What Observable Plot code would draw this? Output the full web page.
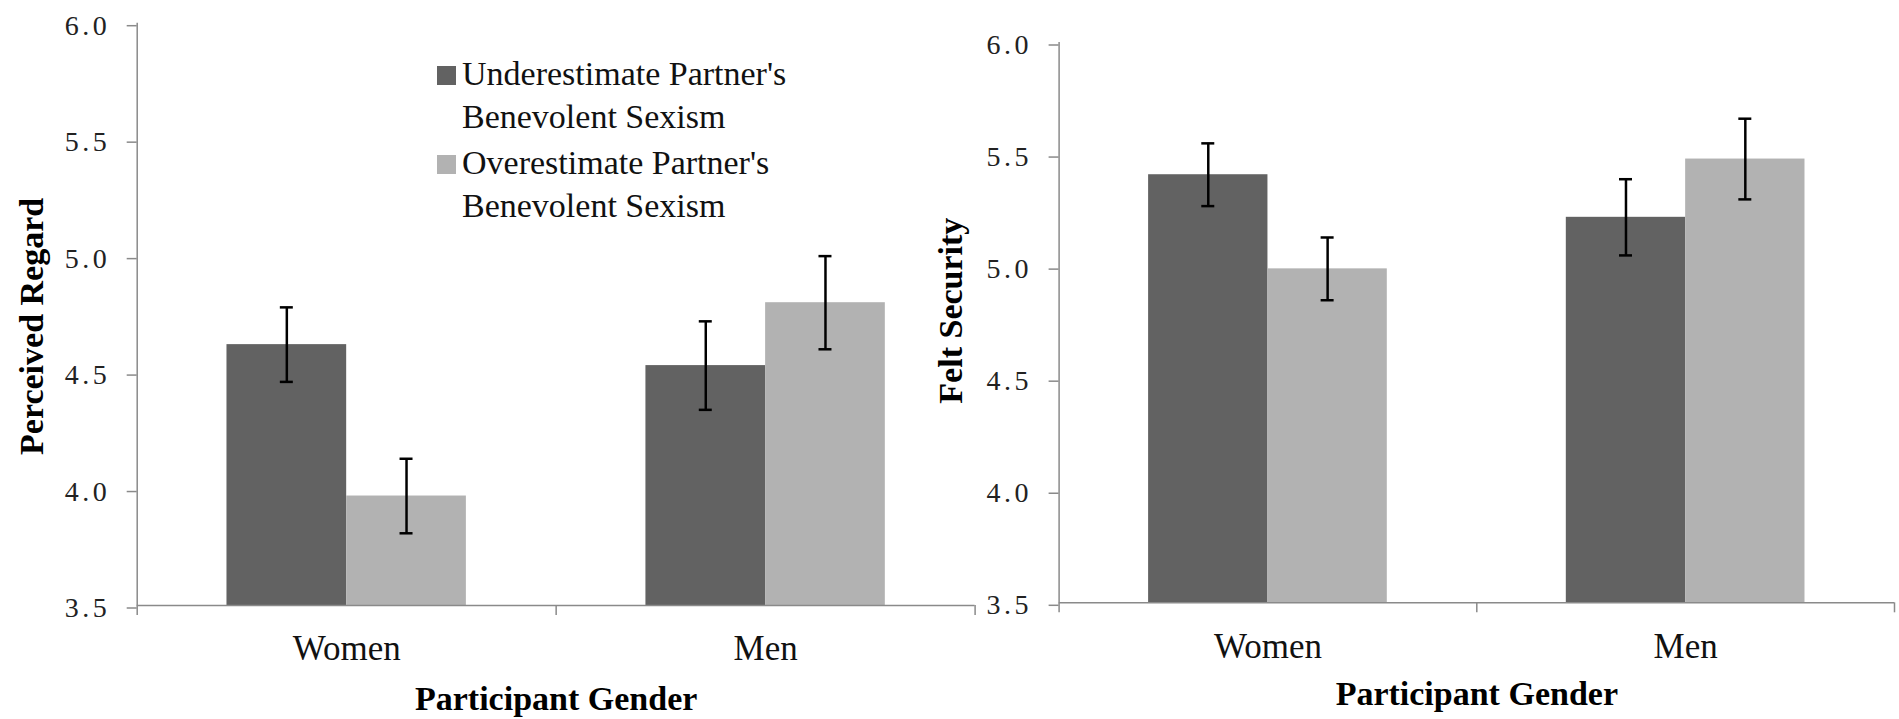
<!DOCTYPE html>
<html>
<head>
<meta charset="utf-8">
<script src="https://cdn.jsdelivr.net/npm/d3@7"></script>
<script src="https://cdn.jsdelivr.net/npm/@observablehq/plot@0.6"></script>
<style>
  html, body { margin: 0; padding: 0; background: #fff; }
  #chart {
    position: relative; width: 1899px; height: 719px; overflow: hidden;
    font-family: "Liberation Serif", "Times New Roman", serif;
  }
  #chart svg { position: absolute; top: 0; }
  #chart g[aria-label="y-axis tick label"],
  #chart g[aria-label="y-axis tick label"] text {
    font-family: "Liberation Serif", "Times New Roman", serif;
    font-size: 28px;
    font-variant: normal;
    letter-spacing: 3.5px;
  }
  #chart g[aria-label="x-axis tick label"],
  #chart g[aria-label="x-axis tick label"] text {
    font-family: "Liberation Serif", "Times New Roman", serif;
    font-size: 35px;
  }
  .legend { position: absolute; z-index: 2; font-size: 34px; line-height: 42.5px; color: #111; white-space: nowrap; }
  .legend .swatch { position: absolute; width: 19px; height: 19px; }
  .legend .label { position: absolute; }
</style>
</head>
<body>
<div id="chart"></div>
<script>
// Categories and series
const genders = ["Women", "Men"];
const seriesNames = [
  "Underestimate Partner's Benevolent Sexism",
  "Overestimate Partner's Benevolent Sexism"
];
const seriesColors = ["#626262", "#b2b2b2"];
const yTicks = [3.5, 4.0, 4.5, 5.0, 5.5, 6.0];

// Perceived Regard: means and error-bar half lengths, by gender
const regardUnder = [4.62, 4.53];
const regardOver = [3.97, 4.80];
const regardUnderErr = [0.16, 0.19];
const regardOverErr = [0.16, 0.20];

// Felt Security: means and error-bar half lengths, by gender
const securityUnder = [5.41, 5.22];
const securityOver = [4.99, 5.48];
const securityUnderErr = [0.14, 0.17];
const securityOverErr = [0.14, 0.18];

// Long-format rows for one panel
function makeRows(under, over, underErr, overErr) {
  const rows = [];
  genders.forEach((g, gi) => {
    rows.push({gender: g, gi, series: seriesNames[0], si: 0, mean: under[gi], err: underErr[gi]});
    rows.push({gender: g, gi, series: seriesNames[1], si: 1, mean: over[gi], err: overErr[gi]});
  });
  return rows;
}

// Clustered-bar geometry in category units (gap width 150% of a bar)
const gapRatio = 1.5;
const barW = 1 / (seriesNames.length + gapRatio);
const barX1 = d => d.gi + (gapRatio / 2) * barW + d.si * barW;
const barX2 = d => barX1(d) + barW;
const barMid = d => barX1(d) + barW / 2;

const axisColor = "#8a8a8a";
const font = "Liberation Serif, Times New Roman, serif";

function panel(o) {
  const rows = o.rows;
  return Plot.plot({
    width: o.width,
    height: 719,
    marginLeft: o.marginLeft,
    marginRight: o.marginRight,
    marginTop: o.marginTop,
    marginBottom: o.marginBottom,
    style: {background: "transparent", overflow: "visible", maxWidth: "none", fontFamily: font, color: "#222"},
    x: {domain: [0, genders.length], axis: null},
    y: {domain: [3.5, 6.0], axis: null},
    color: {domain: seriesNames, range: seriesColors},
    marks: [
      // bars
      Plot.rectY(rows, {x1: barX1, x2: barX2, y1: 3.5, y2: "mean", fill: "series"}),
      // error bars with caps
      Plot.ruleX(rows, {x: barMid, y1: d => d.mean - d.err, y2: d => d.mean + d.err, stroke: "#000", strokeWidth: 2.5}),
      Plot.ruleY(rows, {x1: barMid, x2: barMid, y: d => d.mean + d.err, insetLeft: -6.5, insetRight: -6.5, stroke: "#000", strokeWidth: 2.5}),
      Plot.ruleY(rows, {x1: barMid, x2: barMid, y: d => d.mean - d.err, insetLeft: -6.5, insetRight: -6.5, stroke: "#000", strokeWidth: 2.5}),
      // axis lines
      Plot.ruleX([0], {y1: 3.5, y2: 6.0, stroke: axisColor, strokeWidth: 1.5}),
      Plot.ruleY([3.5], {stroke: axisColor, strokeWidth: 1.5}),
      // category boundary tick marks
      Plot.ruleX(d3.range(genders.length + 1), {y1: 3.5, y2: 3.5, insetBottom: -10, stroke: axisColor, strokeWidth: 1.5}),
      // value axis
      Plot.axisY({
        ticks: yTicks, tickFormat: d3.format(".1f"), tickSize: 10, tickPadding: 17, label: null,
        stroke: axisColor, strokeWidth: 1.5, fontSize: 28, fontFamily: font, fill: "#222", dy: 2.5
      }),
      // category labels
      Plot.axisX({
        ticks: genders.map((g, i) => i + 0.5), tickFormat: v => genders[Math.floor(v)], label: null,
        tickSize: 0, tickPadding: 30, fontSize: 35, fontFamily: font, fill: "#111"
      }),
      // axis titles
      Plot.text([o.yLabel], {
        frameAnchor: "left", rotate: -90, textAnchor: "middle", lineAnchor: "middle",
        dx: o.yTitleDx, dy: o.yTitleDy, fontWeight: "bold", fontSize: 34, fontFamily: font, fill: "#000"
      }),
      Plot.text(["Participant Gender"], {
        frameAnchor: "bottom", textAnchor: "middle", lineAnchor: "middle",
        dy: o.xTitleDy, fontWeight: "bold", fontSize: 34, fontFamily: font, fill: "#000"
      })
    ]
  });
}

const chart = document.getElementById("chart");

const left = panel({
  rows: makeRows(regardUnder, regardOver, regardUnderErr, regardOverErr),
  yLabel: "Perceived Regard",
  width: 980, marginLeft: 136.7, marginRight: 5.4, marginTop: 22.7, marginBottom: 114,
  yTitleDx: -105.3, yTitleDy: 12, xTitleDy: 94
});
left.style.left = "0px";
chart.appendChild(left);

const right = panel({
  rows: makeRows(securityUnder, securityOver, securityUnderErr, securityOverErr),
  yLabel: "Felt Security",
  width: 979, marginLeft: 138.6, marginRight: 5, marginTop: 42, marginBottom: 116.7,
  yTitleDx: -107.6, yTitleDy: -12, xTitleDy: 91.7
});
right.style.left = "920px";
chart.appendChild(right);

// Legend (two-line labels)
const legendTops = [53.3, 142.3];
seriesNames.forEach((name, i) => {
  const item = document.createElement("div");
  item.className = "legend";
  item.style.left = "437px";
  item.style.top = legendTops[i] + "px";
  const sw = document.createElement("div");
  sw.className = "swatch";
  sw.style.background = seriesColors[i];
  sw.style.left = "0px";
  sw.style.top = "12.5px";
  const lab = document.createElement("div");
  lab.className = "label";
  lab.style.left = "25px";
  lab.style.top = "0px";
  const parts = name.split(" Benevolent");
  lab.appendChild(document.createTextNode(parts[0]));
  lab.appendChild(document.createElement("br"));
  lab.appendChild(document.createTextNode("Benevolent" + parts[1]));
  item.appendChild(sw);
  item.appendChild(lab);
  chart.appendChild(item);
});
</script>
</body>
</html>
